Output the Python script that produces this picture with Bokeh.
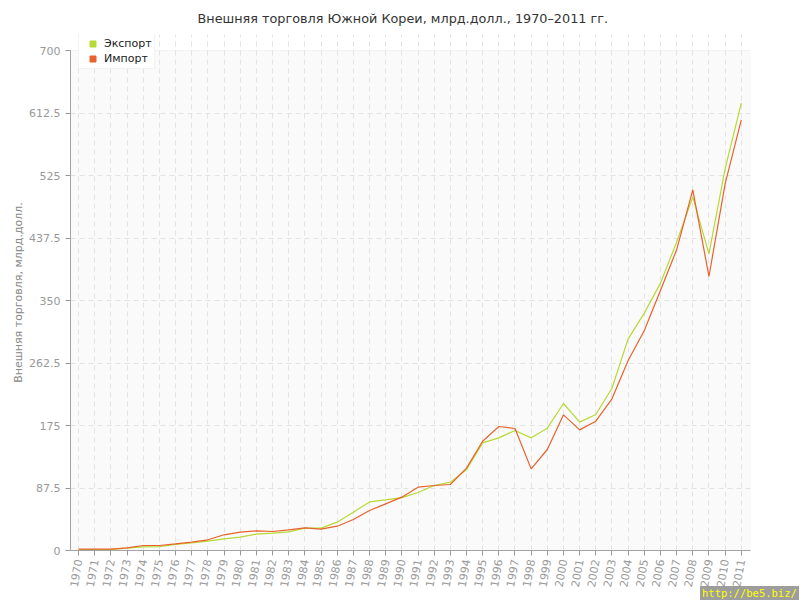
import math
from bokeh.plotting import figure
from bokeh.layouts import column
from bokeh.models import (ColumnDataSource, FixedTicker, Legend, LegendItem,
                          Range1d, BoxAnnotation, Div)
from bokeh.embed import file_html
from bokeh.resources import INLINE

years = list(range(1970, 2012))
export = [0.9, 1.2, 1.6, 3.2, 5.0, 5.5, 8.5, 10.5, 13.0, 16.3,
          18.7, 22.9, 24.3, 26.1, 31.3, 31.3, 39.7, 53.7, 68.0, 71.0,
          74.0, 81.2, 91.0, 95.7, 113.0, 150.7, 157.7, 168.0, 157.7, 171.3,
          205.8, 179.7, 190.4, 227.2, 296.3, 332.3, 374.3, 431.7, 494.7, 415.3,
          534.3, 626.3]
imports = [1.9, 2.0, 2.0, 3.7, 7.0, 7.0, 9.3, 11.7, 15.0, 22.0,
           25.7, 27.5, 26.6, 29.0, 31.7, 29.9, 34.0, 43.4, 56.0, 65.3,
           74.7, 88.7, 91.0, 92.4, 115.3, 153.0, 173.6, 170.8, 114.3, 141.4,
           189.9, 168.9, 181.0, 212.4, 266.0, 308.0, 364.0, 421.0, 505.0, 383.6,
           513.3, 603.0]
y_ticks = [0, 87.5, 175, 262.5, 350, 437.5, 525, 612.5, 700]
y_tick_labels = ["0", "87.5", "175", "262.5", "350", "437.5", "525", "612.5", "700"]
series_names = ["Экспорт", "Импорт"]
series_colors = ["#b8d934", "#e8622c"]

title_text = "Внешняя торговля Южной Кореи, млрд.долл., 1970–2011 гг."
y_label = "Внешняя торговля, млрд.долл."
watermark = "http://be5.biz/"
FONT = "DejaVu Sans"

X0, X1 = 1969.5, 2011.57
Y_MAX = 700
Y_TOP = 722.4  # a little room above the plot area for the legend

src = ColumnDataSource(dict(year=years, export=export, imports=imports))

p = figure(frame_width=680, frame_height=516, output_backend="svg",
           toolbar_location=None,
           x_range=Range1d(X0, X1), y_range=Range1d(0, Y_TOP),
           min_border_left=70, min_border_right=42, min_border_top=10,
           min_border_bottom=10)

p.title.text = title_text
p.title.align = "left"
p.title.text_font = FONT
p.title.text_font_size = "12.8px"
p.title.text_font_style = "normal"
p.title.text_color = "#333333"
p.title.offset = 127
p.title.standoff = 17

p.background_fill_color = "white"
p.border_fill_color = "white"
p.outline_line_color = None

# plot-area background (under grid)
p.add_layout(BoxAnnotation(left=X0, right=X1, bottom=0, top=Y_MAX,
                           fill_color="#fafafa", fill_alpha=1.0,
                           line_color=None, level="image"))

for ax in (p.xaxis[0], p.yaxis[0]):
    ax.axis_line_color = "#999999"
    ax.major_tick_line_color = "#999999"
    ax.major_tick_out = 5
    ax.major_tick_in = 0
    ax.minor_tick_line_color = None
    ax.major_label_text_color = "#999999"
    ax.major_label_text_font = FONT
    ax.major_label_text_font_size = "11px"

p.xaxis.ticker = FixedTicker(ticks=years)
p.xaxis.major_label_orientation = math.radians(80)
p.xaxis.major_label_standoff = 4
p.yaxis.ticker = FixedTicker(ticks=y_ticks)
p.yaxis.bounds = (0, Y_MAX)
p.yaxis.major_label_overrides = {t: l for t, l in zip(y_ticks, y_tick_labels)}
p.yaxis.axis_label = y_label
p.yaxis.axis_label_text_font = FONT
p.yaxis.axis_label_text_font_size = "11px"
p.yaxis.axis_label_text_font_style = "normal"
p.yaxis.axis_label_text_color = "#888888"
p.yaxis.axis_label_standoff = 1

p.xgrid.ticker = FixedTicker(ticks=years)
p.ygrid.ticker = FixedTicker(ticks=y_ticks[:-1])
p.xgrid.bounds = (0, Y_MAX)
for g in (p.xgrid[0], p.ygrid[0]):
    g.grid_line_color = "#e3e3e3"
    g.grid_line_dash = "5 4"
    g.grid_line_width = 1

p.line("year", "export", source=src, line_color=series_colors[0], line_width=1.2)
p.line("year", "imports", source=src, line_color=series_colors[1], line_width=1.2)

# light border on top and right of the plot area
p.add_layout(BoxAnnotation(left=X0, right=X1, bottom=0, top=Y_MAX,
                           fill_alpha=0, line_color="#dddddd", line_width=1))

items = []
for name, col in zip(series_names, series_colors):
    r = p.scatter(x=[float("nan")], y=[float("nan")], marker="square", size=7,
                  fill_color=col, line_color=col)
    items.append(LegendItem(label=name, renderers=[r]))

legend = Legend(items=items, location=(8, 481), orientation="vertical",
                label_text_font=FONT, label_text_font_size="11px",
                label_text_color="#222222", glyph_width=23, glyph_height=15,
                label_height=15, spacing=0, padding=2, margin=0,
                background_fill_color="white", background_fill_alpha=1.0,
                border_line_color="#e6e6e6", label_standoff=0)
p.add_layout(legend, "center")

wm = Div(text=watermark, margin=(-5, 0, 0, 700),
         styles={"background-color": "rgba(140,140,140,0.85)", "color": "#ffff00",
                 "font-family": "DejaVu Sans Mono", "font-size": "10.5px",
                 "padding": "0px 2px", "line-height": "15px", "z-index": "10"})

open("out.html", "w").write(file_html(column(p, wm, spacing=0), INLINE))
